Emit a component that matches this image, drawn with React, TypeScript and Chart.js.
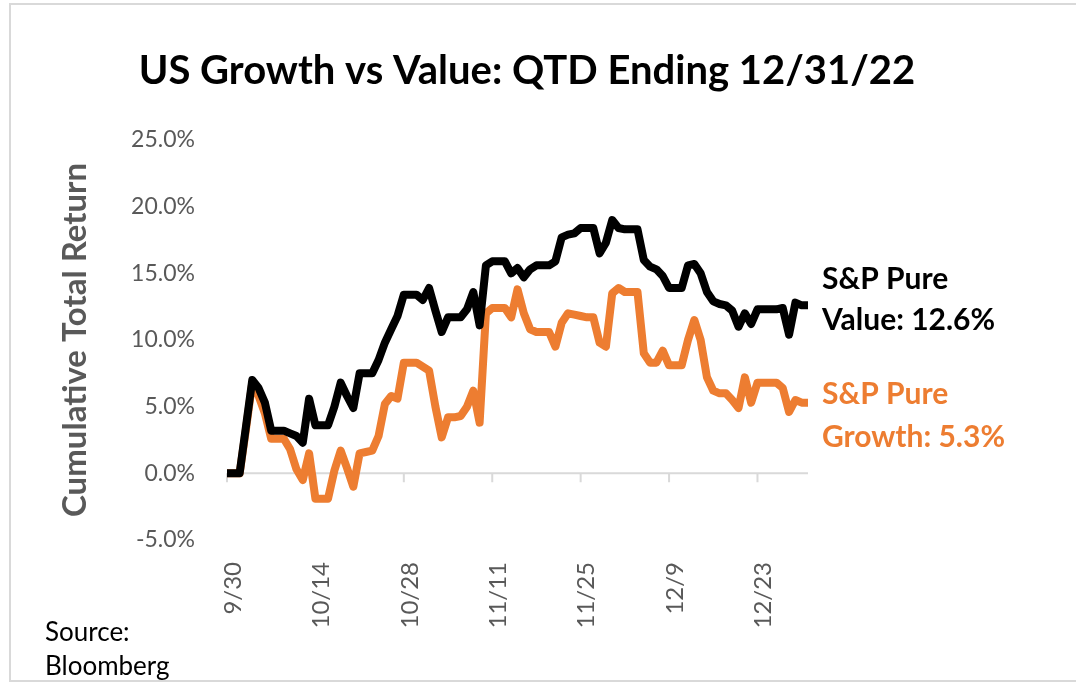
import { useEffect, useRef } from "react";
import { Chart, registerables } from "chart.js";

Chart.register(...registerables);

// Daily calendar dates, 9/30/22 through 12/31/22
const dates: string[] = [
  "9/30",
  "10/1", "10/2", "10/3", "10/4", "10/5", "10/6", "10/7", "10/8", "10/9", "10/10",
  "10/11", "10/12", "10/13", "10/14", "10/15", "10/16", "10/17", "10/18", "10/19", "10/20",
  "10/21", "10/22", "10/23", "10/24", "10/25", "10/26", "10/27", "10/28", "10/29", "10/30", "10/31",
  "11/1", "11/2", "11/3", "11/4", "11/5", "11/6", "11/7", "11/8", "11/9", "11/10",
  "11/11", "11/12", "11/13", "11/14", "11/15", "11/16", "11/17", "11/18", "11/19", "11/20",
  "11/21", "11/22", "11/23", "11/24", "11/25", "11/26", "11/27", "11/28", "11/29", "11/30",
  "12/1", "12/2", "12/3", "12/4", "12/5", "12/6", "12/7", "12/8", "12/9", "12/10",
  "12/11", "12/12", "12/13", "12/14", "12/15", "12/16", "12/17", "12/18", "12/19", "12/20",
  "12/21", "12/22", "12/23", "12/24", "12/25", "12/26", "12/27", "12/28", "12/29", "12/30", "12/31",
];

// Dates shown as axis labels
const tickDates: string[] = ["9/30", "10/14", "10/28", "11/11", "11/25", "12/9", "12/23"];

// Cumulative total return, %
const pureValue: number[] = [
  0, 0, 0, 3.5, 7.0, 6.4, 5.3, 3.2, 3.2, 3.2,
  3.0, 2.8, 2.3, 5.6, 3.6, 3.6, 3.6, 5.0, 6.8, 5.8,
  4.9, 7.5, 7.5, 7.5, 8.5, 9.8, 10.8, 11.8, 13.4, 13.4,
  13.4, 13.0, 13.9, 12.2, 10.6, 11.7, 11.7, 11.7, 12.3, 13.6,
  11.1, 15.6, 15.9, 15.9, 15.9, 15.0, 15.4, 14.7, 15.3, 15.6,
  15.6, 15.6, 15.9, 17.7, 17.9, 18.0, 18.4, 18.4, 18.4, 16.5,
  17.3, 19.0, 18.4, 18.3, 18.3, 18.3, 16.0, 15.5, 15.3, 14.8,
  13.9, 13.9, 13.9, 15.6, 15.7, 15.0, 13.6, 12.9, 12.7, 12.6,
  12.2, 11.0, 12.0, 11.2, 12.3, 12.3, 12.3, 12.3, 12.4, 10.4,
  12.8, 12.6, 12.6,
];

const pureGrowth: number[] = [
  0, 0, 0, 3.3, 6.8, 5.8, 4.5, 2.6, 2.6, 2.6,
  1.8, 0.3, -0.5, 1.5, -1.9, -1.9, -1.9, 0.2, 1.7, 0.4,
  -1.0, 1.5, 1.6, 1.7, 2.8, 5.2, 5.8, 5.6, 8.3, 8.3,
  8.3, 8.0, 7.7, 5.0, 2.7, 4.2, 4.2, 4.3, 5.0, 6.2,
  3.8, 12.0, 12.4, 12.4, 12.4, 11.7, 13.8, 12.0, 10.8, 10.6,
  10.6, 10.6, 9.5, 11.3, 12.0, 11.9, 11.8, 11.7, 11.7, 9.8,
  9.5, 13.5, 13.9, 13.6, 13.6, 13.6, 9.0, 8.3, 8.3, 9.2,
  8.1, 8.1, 8.1, 10.0, 11.5, 10.0, 7.2, 6.2, 6.0, 6.0,
  5.5, 4.9, 7.2, 5.3, 6.8, 6.8, 6.8, 6.8, 6.4, 4.6,
  5.5, 5.3, 5.3,
];

const yTicks: number[] = [-5, 0, 5, 10, 15, 20, 25];

const TITLE = "US Growth vs Value: QTD Ending 12/31/22";
const VALUE_LABEL = ["S&P Pure", "Value: 12.6%"];
const GROWTH_LABEL = ["S&P Pure", "Growth: 5.3%"];
const SOURCE_LABEL = ["Source:", "Bloomberg"];

const FONT = "Lato, 'Open Sans', sans-serif";
const BLACK = "#000000";
const ORANGE = "#ED7D31";
const GRAY_TEXT = "#595959";
const AXIS_GRAY = "#D9D9D9";

export default function App() {
  const ref = useRef<HTMLCanvasElement>(null);

  useEffect(() => {
    const canvas = ref.current;
    if (!canvas) return;

    const overlay = {
      id: "overlay",
      beforeDatasetsDraw(chart: any) {
        const { ctx, chartArea, scales } = chart;
        const xs = scales.x;
        const ys = scales.y;
        const y0 = ys.getPixelForValue(0);
        ctx.save();
        ctx.strokeStyle = AXIS_GRAY;
        ctx.lineWidth = 2;
        ctx.beginPath();
        ctx.moveTo(chartArea.left, y0);
        ctx.lineTo(chartArea.right, y0);
        dates.forEach((d, i) => {
          if (tickDates.includes(d)) {
            const px = xs.getPixelForValue(i);
            ctx.moveTo(px, y0);
            ctx.lineTo(px, y0 + 9);
          }
        });
        ctx.stroke();
        ctx.restore();
      },
      afterDraw(chart: any) {
        const { ctx, chartArea } = chart;
        ctx.save();
        // frame
        ctx.strokeStyle = AXIS_GRAY;
        ctx.lineWidth = 2;
        ctx.beginPath();
        ctx.moveTo(1076, 4);
        ctx.lineTo(10, 4);
        ctx.lineTo(10, 681);
        ctx.lineTo(1076, 681);
        ctx.stroke();

        // title
        ctx.fillStyle = BLACK;
        ctx.textAlign = "center";
        ctx.textBaseline = "alphabetic";
        ctx.font = `bold 40px ${FONT}`;
        ctx.fillText(TITLE, 527, 84);

        // series labels
        const lx = chartArea.right + 14;
        ctx.textAlign = "left";
        ctx.font = `bold 30px ${FONT}`;
        ctx.fillStyle = BLACK;
        ctx.fillText(VALUE_LABEL[0], lx, 289);
        ctx.fillText(VALUE_LABEL[1], lx, 330);
        ctx.fillStyle = ORANGE;
        ctx.fillText(GROWTH_LABEL[0], lx, 404);
        ctx.fillText(GROWTH_LABEL[1], lx, 447);

        // source
        ctx.fillStyle = BLACK;
        ctx.font = `26px ${FONT}`;
        ctx.fillText(SOURCE_LABEL[0], 45, 641);
        ctx.fillText(SOURCE_LABEL[1], 45, 675);
        ctx.restore();
      },
    };

    const chart = new Chart(canvas, {
      type: "line",
      data: {
        labels: dates,
        datasets: [
          {
            label: "S&P Pure Value",
            data: pureValue,
            borderColor: BLACK,
            backgroundColor: BLACK,
            borderWidth: 8,
            pointRadius: 0,
            tension: 0,
            borderJoinStyle: "round",
            fill: false,
          },
          {
            label: "S&P Pure Growth",
            data: pureGrowth,
            borderColor: ORANGE,
            backgroundColor: ORANGE,
            borderWidth: 8,
            pointRadius: 0,
            tension: 0,
            borderJoinStyle: "round",
            fill: false,
          },
        ],
      },
      options: {
        responsive: false,
        animation: false,
        devicePixelRatio: 1,
        events: [],
        layout: { padding: { left: 0, top: 140, right: 268, bottom: 0 } },
        plugins: {
          legend: { display: false },
          tooltip: { enabled: false },
          title: { display: false },
        },
        scales: {
          x: {
            type: "category",
            offset: false,
            grid: { display: false, drawTicks: false },
            border: { display: false },
            ticks: {
              autoSkip: false,
              maxRotation: 90,
              minRotation: 90,
              padding: 22,
              labelOffset: 6,
              color: GRAY_TEXT,
              font: { family: FONT, size: 24 },
              callback: (_v: any, i: number) => (tickDates.includes(dates[i]) ? dates[i] : ""),
            },
            afterFit: (s: any) => {
              s.height = 143;
            },
          },
          y: {
            min: -5,
            max: 25,
            grid: { display: false, drawTicks: false },
            border: { display: false },
            afterBuildTicks: (s: any) => {
              s.ticks = yTicks.map((v) => ({ value: v }));
            },
            ticks: {
              padding: 32,
              color: GRAY_TEXT,
              font: { family: FONT, size: 23 },
              callback: (v: any) => Number(v).toFixed(1) + "%",
            },
            title: {
              display: true,
              text: "Cumulative Total Return",
              color: GRAY_TEXT,
              font: { family: FONT, size: 33, weight: "bold" },
              padding: { top: 56, bottom: 0 },
            },
            afterFit: (s: any) => {
              s.width = 227;
            },
          },
        },
      },
      plugins: [overlay],
    } as any);

    return () => chart.destroy();
  }, []);

  return (
    <div style={{ position: "fixed", left: 0, top: 0, width: 1076, height: 683, background: "#fff" }}>
      <canvas ref={ref} width={1076} height={683} style={{ display: "block" }} />
    </div>
  );
}
